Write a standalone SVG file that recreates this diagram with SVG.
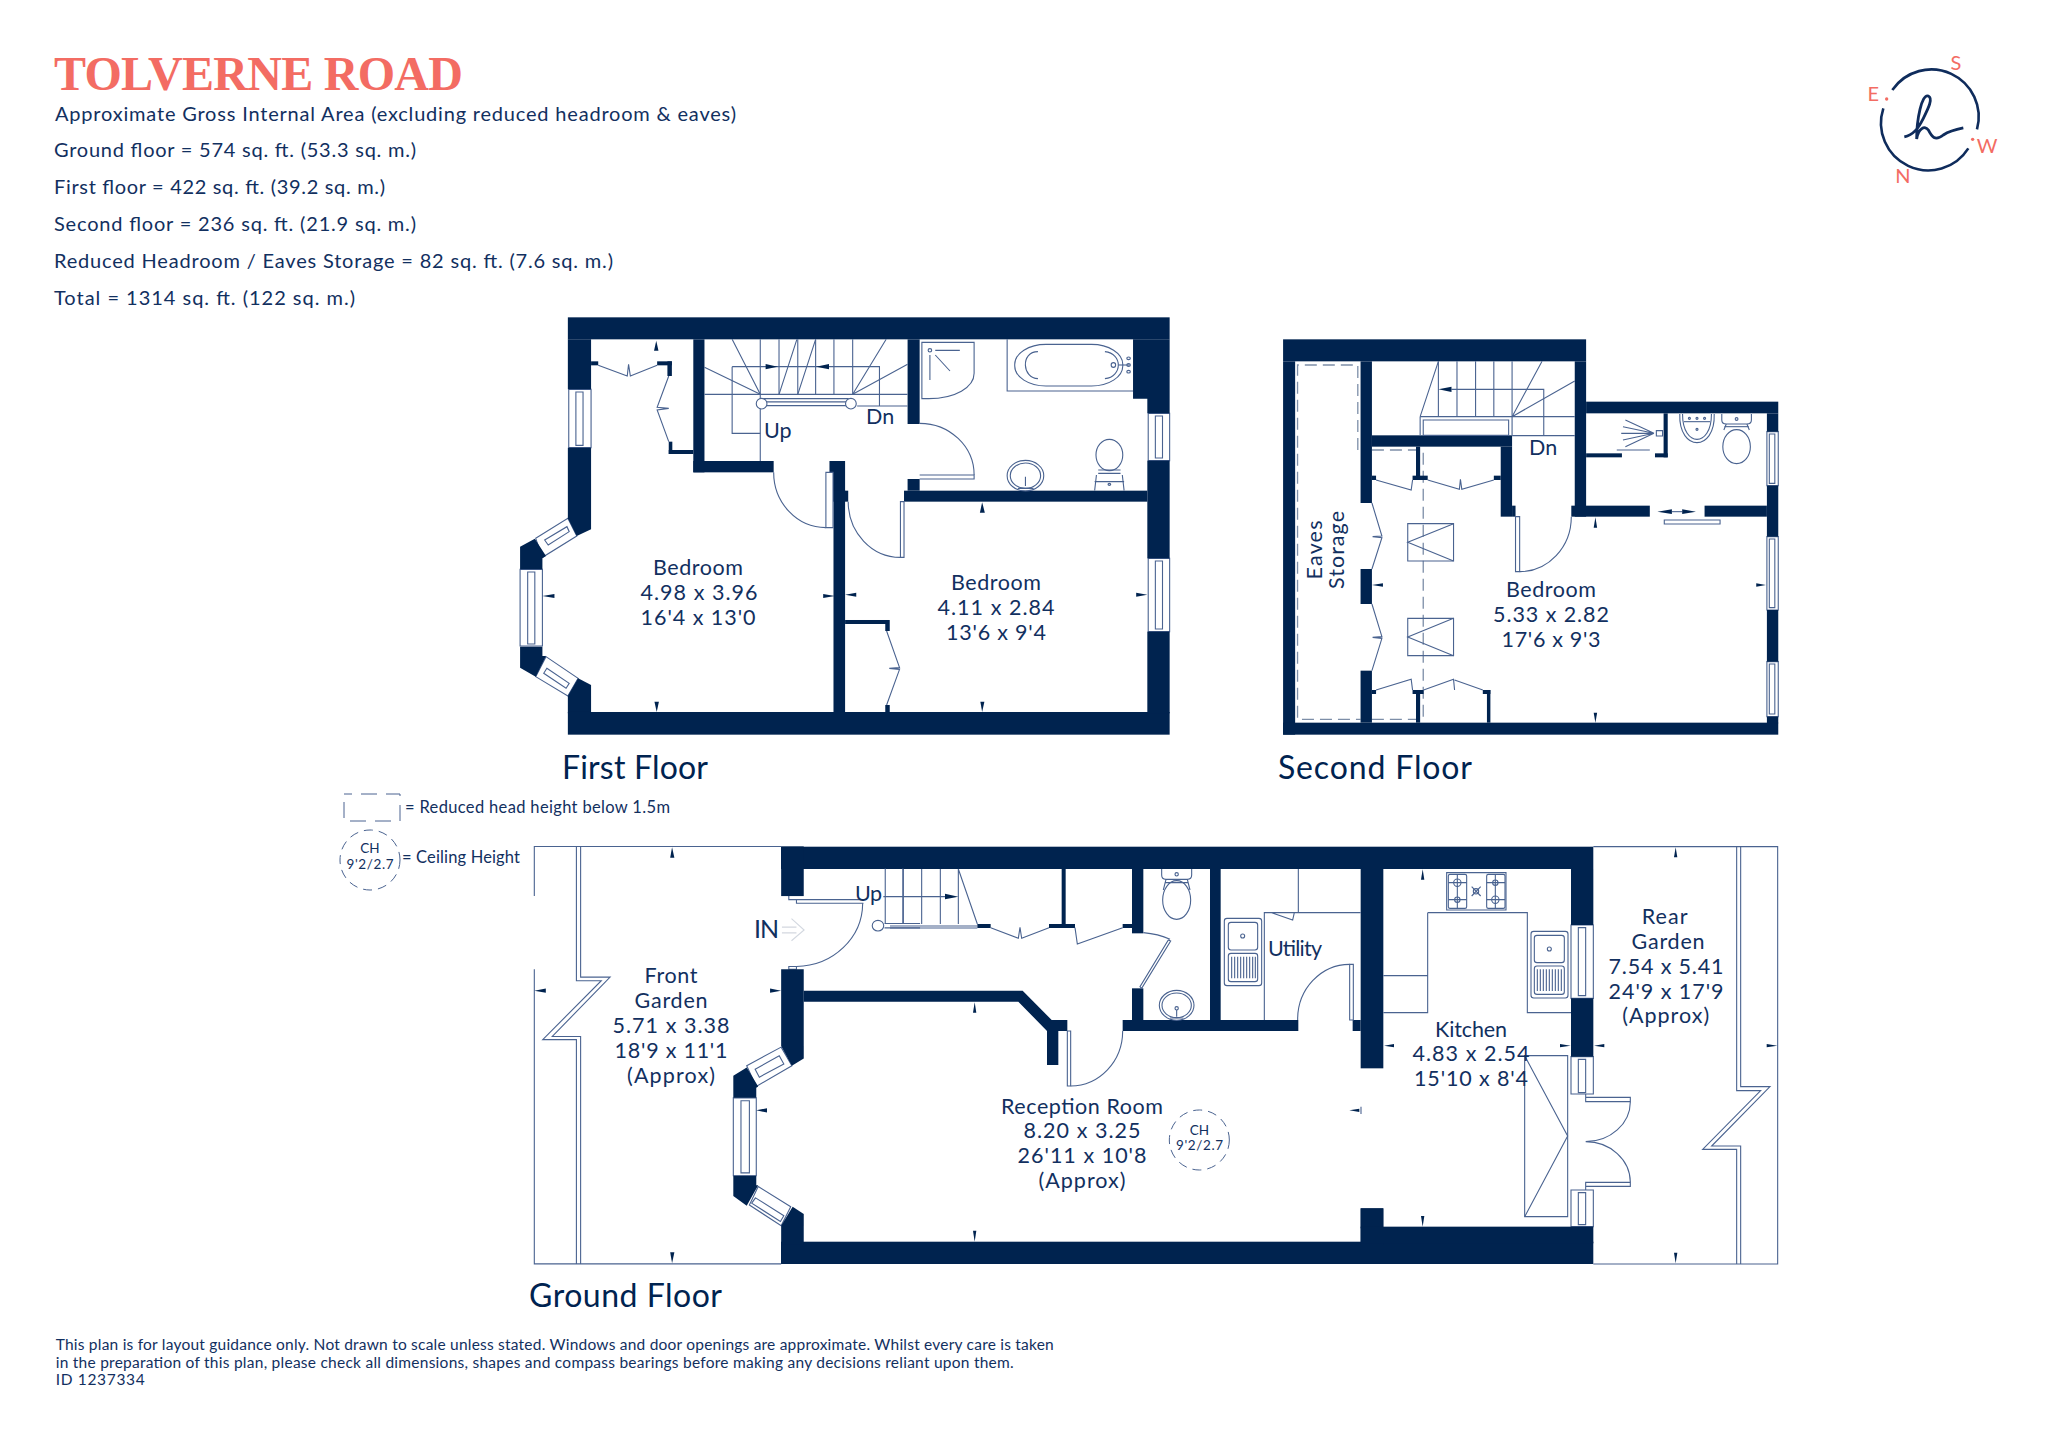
<svg xmlns="http://www.w3.org/2000/svg" width="2048" height="1443" viewBox="0 0 2048 1443">
<style>
text{font-family:"Lato","Noto Sans",sans-serif;fill:#12305f}
.c{text-anchor:middle}
.r{font-size:21.5px}
.f{font-size:32px;fill:#002350}
.h{font-size:20px}
.d{font-size:15.5px}
.lg{font-size:16.5px}
.w{fill:#00234f;stroke:none}
.l,.l *{fill:none;stroke:#4a6390;stroke-width:1.1;vector-effect:non-scaling-stroke}
.win,.win *{fill:#fff;stroke:#4a6390;stroke-width:1.1;vector-effect:non-scaling-stroke}
.t{fill:#00234f;stroke:none}
.dash{fill:none;stroke:#7d8ea8;stroke-width:1.3;stroke-dasharray:12 6}
.cd{fill:none;stroke:#4a6390;stroke-width:1;stroke-dasharray:9 6}
.in{fill:none;stroke:#d3d8e0;stroke-width:1.1;vector-effect:non-scaling-stroke}
</style>
<rect width="2048" height="1443" fill="#fff"/>

<g id="heading">
<text x="54" y="89.5" font-size="48" font-weight="700" textLength="409" style="font-family:'Liberation Serif',serif;fill:#f36c63">TOLVERNE ROAD</text>
<text class="h" x="55" y="120.7" textLength="681">Approximate Gross Internal Area (excluding reduced headroom &amp; eaves)</text>
<text class="h" x="54" y="157" textLength="362">Ground floor = 574 sq. ft. (53.3 sq. m.)</text>
<text class="h" x="54" y="194" textLength="331">First floor = 422 sq. ft. (39.2 sq. m.)</text>
<text class="h" x="54" y="231" textLength="362">Second floor = 236 sq. ft. (21.9 sq. m.)</text>
<text class="h" x="54" y="268" textLength="559">Reduced Headroom / Eaves Storage = 82 sq. ft. (7.6 sq. m.)</text>
<text class="h" x="54" y="304.7" textLength="301">Total = 1314 sq. ft. (122 sq. m.)</text>
</g>

<g id="compass" transform="translate(1850 40) scale(.3333)">
<g class="l"><path style="stroke:#0f2c5c;stroke-width:2.6" d="M127 150A142 142 0 0 1 381 268M355 325A142 142 0 0 1 100 205"/>
<path style="stroke:#0f2c5c;stroke-width:2.8" d="M163 291C190 285 205 265 220 235C235 205 250 175 235 168C215 160 200 240 200 297C205 265 225 255 235 270C245 290 255 305 280 285C300 272 320 268 340 264"/></g>
<circle cx="110" cy="177" r="5" fill="#f36c63"/><circle cx="368" cy="298" r="5" fill="#f36c63"/>
</g>
<g id="compass-letters" font-size="20">
<text class="c" x="1956" y="70" style="fill:#f36c63">S</text>
<text class="c" x="1873.3" y="100.7" style="fill:#f36c63">E</text>
<text class="c" x="1903" y="183" style="fill:#f36c63">N</text>
<text class="c" x="1987" y="152.7" style="fill:#f36c63">W</text>
</g>

<g id="first-floor" transform="translate(500 300) scale(.44643 .33333)">
<g class="win">
<rect x="154" y="268" width="50" height="175"/><rect x="170" y="276" width="16" height="160"/>
<polygon points="80,715 152,655 172,708 95,772"/><polygon points="100,720 150,680 155,695 108,735"/>
<rect x="45" y="808" width="50" height="230"/><rect x="62" y="816" width="16" height="216"/>
<polygon points="103,1070 175,1135 152,1188 80,1130"/><polygon points="105,1105 155,1150 148,1165 98,1120"/>
<rect x="1452" y="340" width="48" height="142"/><rect x="1468" y="348" width="16" height="126"/>
<rect x="1452" y="775" width="48" height="220"/><rect x="1468" y="783" width="16" height="204"/>
</g>
<g class="w">
<rect x="152" y="52" width="1348" height="66"/>
<polygon points="152,118 204,118 204,268 152,268"/>
<polygon points="152,443 204,443 204,688 172,708 152,655"/>
<polygon points="45,740 78,716 103,768 95,775 95,808 45,808"/>
<polygon points="45,1040 95,1040 95,1068 103,1068 80,1130 45,1103"/>
<polygon points="175,1135 204,1155 204,1240 152,1240 152,1188"/>
<rect x="152" y="1236" width="1348" height="68"/>
<polygon points="1418,118 1500,118 1500,340 1450,340 1450,296 1418,296"/>
<rect x="1450" y="482" width="50" height="293"/><rect x="1450" y="995" width="50" height="245"/>
<rect x="433" y="118" width="25" height="399"/><rect x="433" y="483" width="180" height="34"/>
<rect x="378" y="450" width="55" height="12"/><rect x="378" y="425" width="8" height="37"/>
<rect x="204" y="184" width="16" height="12"/><rect x="352" y="184" width="33" height="12"/><rect x="375" y="184" width="10" height="44"/>
<rect x="913" y="118" width="27" height="254"/>
<rect x="905" y="572" width="545" height="33"/><rect x="913" y="537" width="27" height="35"/>
<rect x="747" y="570" width="26" height="666"/><rect x="738" y="483" width="35" height="120"/><rect x="738" y="572" width="42" height="33"/>
<rect x="773" y="960" width="100" height="12"/><rect x="863" y="972" width="10" height="21"/><rect x="863" y="1215" width="10" height="21"/>
</g>
<g class="l">
<rect style="fill:#fff" x="730" y="517" width="16" height="166"/>
<path d="M613 517A117 166 0 0 0 730 683"/>
<path d="M940 525H1062V537H940"/><path d="M940 370A122 155 0 0 1 1062 525"/>
<rect x="897" y="605" width="8" height="167"/><path d="M780 605A117 167 0 0 0 897 772"/>
<path d="M220 196L285 228L288 193L292 228L352 196"/>
<path d="M378 228L352 322L378 325L352 330L378 425"/>
<path d="M866 993L895 1103L872 1105L895 1108L866 1215"/>
<path d="M583 118V483M625 118V283M667 118V283M707 118V283M748 118V283M790 118V283"/>
<path d="M520 118L583 283M458 202L583 283M665 118L625 283M707 118L667 283M865 118L790 283M913 193L790 283"/>
<path d="M458 283H913M520 200H850V318M520 200V400H583M800 318H913"/>
<rect style="fill:#fff" x="590" y="296" width="190" height="10"/><rect style="fill:#fff" x="590" y="306" width="190" height="11"/>
<ellipse style="fill:#fff" cx="586" cy="311" rx="12" ry="16"/><ellipse style="fill:#fff" cx="786" cy="311" rx="12" ry="16"/>
<path d="M945 127H1062V220C1062 262 1020 296 960 296H945Z"/>
<ellipse cx="963" cy="151" rx="4" ry="5"/>
<path d="M975 151H1030M963 165V240M975 165L1008 213"/>
<path d="M1136 118V273H1418"/>
<rect x="1153" y="133" width="242" height="125" rx="70" ry="60"/>
<path d="M1205 155C1165 155 1170 236 1205 236M1355 155C1395 160 1395 230 1355 236"/>
<ellipse cx="1374" cy="195" rx="5" ry="7"/><ellipse cx="1408" cy="175" rx="4" ry="4"/><ellipse cx="1408" cy="195" rx="4" ry="4"/><ellipse cx="1408" cy="215" rx="4" ry="4"/>
<path d="M1385 195H1410"/>
<ellipse cx="1177" cy="527" rx="41" ry="46"/><ellipse cx="1177" cy="527" rx="34" ry="38"/>
<path d="M1177 530V558M1160 565H1195"/>
<ellipse cx="1365" cy="465" rx="30" ry="47"/>
<path d="M1340 510H1390M1340 520H1390M1336 525L1332 572M1394 525L1398 572M1332 545H1398"/>
<circle cx="1365" cy="553" r="3"/>
</g>
<polygon class="t" points="595,192 622,200 595,208"/><polygon class="t" points="737,192 708,200 737,208"/>
<g class="t">
<polygon points="350,122 345,152 355,152"/><polygon points="351,1236 346,1205 356,1205"/>
<polygon points="95,888 122,882 122,894"/><polygon points="750,888 724,882 724,894"/>
<polygon points="773,884 798,878 798,890"/><polygon points="1450,884 1425,878 1425,890"/>
<polygon points="1080,607 1075,638 1086,638"/><polygon points="1080,1236 1076,1205 1085,1205"/>
</g>
</g>
<g id="first-floor-labels">
<text class="r c" x="698" y="575" textLength="90">Bedroom</text>
<text class="r c" x="699" y="600" textLength="117">4.98 x 3.96</text>
<text class="r c" x="698" y="625" textLength="115">16'4 x 13'0</text>
<text class="r c" x="996" y="590" textLength="90">Bedroom</text>
<text class="r c" x="996" y="615" textLength="117">4.11 x 2.84</text>
<text class="r c" x="996" y="640" textLength="100">13'6 x 9'4</text>
<text class="r" x="764" y="438">Up</text>
<text class="r" x="866" y="424">Dn</text>
<text class="f" x="562" y="779" textLength="146">First Floor</text>
</g>

<g id="second-floor" transform="translate(1270 320) scale(.34435 .33333)">
<g class="win">
<rect x="1443" y="335" width="33" height="162"/><rect x="1450" y="342" width="16" height="148"/>
<rect x="1443" y="650" width="33" height="220"/><rect x="1450" y="657" width="16" height="206"/>
<rect x="1443" y="1025" width="33" height="165"/><rect x="1450" y="1032" width="16" height="150"/>
</g>
<path class="dash" vector-effect="non-scaling-stroke" d="M255 390V135H80V1198H263M296 390H445V1198H296"/>
<g class="w">
<rect x="38" y="58" width="880" height="66"/>
<rect x="38" y="124" width="35" height="1120"/>
<rect x="38" y="1208" width="1438" height="36"/>
<rect x="885" y="124" width="33" height="466"/>
<rect x="918" y="245" width="558" height="35"/>
<rect x="1443" y="280" width="33" height="55"/><rect x="1443" y="497" width="33" height="153"/><rect x="1443" y="870" width="33" height="155"/><rect x="1443" y="1190" width="33" height="20"/>
<rect x="263" y="124" width="33" height="425"/><rect x="263" y="747" width="33" height="105"/><rect x="263" y="1052" width="33" height="156"/>
<rect x="296" y="346" width="407" height="34"/><rect x="670" y="380" width="33" height="210"/><rect x="703" y="557" width="10" height="33"/>
<rect x="424" y="380" width="12" height="100"/><rect x="414" y="467" width="44" height="13"/><rect x="296" y="467" width="12" height="13"/><rect x="650" y="467" width="20" height="13"/>
<rect x="424" y="1110" width="12" height="98"/><rect x="414" y="1110" width="32" height="12"/><rect x="296" y="1110" width="12" height="12"/><rect x="618" y="1110" width="22" height="12"/><rect x="630" y="1110" width="10" height="98"/>
<rect x="875" y="557" width="228" height="33"/><rect x="1262" y="557" width="181" height="33"/>
<rect x="918" y="400" width="104" height="12"/><rect x="1118" y="400" width="37" height="12"/><rect x="1143" y="280" width="12" height="132"/>
</g>
<g class="l">
<rect x="713" y="590" width="12" height="165"/><path d="M875 590A150 165 0 0 1 725 755"/>
<rect x="1145" y="600" width="162" height="12"/>
<path d="M1167 575H1197"/>
<rect x="400" y="611" width="133" height="112"/><path d="M533 611L400 667L533 723"/>
<rect x="400" y="895" width="133" height="112"/><path d="M533 895L400 951L533 1007"/>
<path d="M308 480L410 510L414 480M458 480L550 508L553 478L557 508L650 480"/>
<path d="M296 549L325 648L298 650L325 653L296 747"/>
<path d="M296 852L325 950L298 952L325 955L296 1052"/>
<path d="M308 1110L410 1078L414 1110M446 1110L533 1078L536 1110M536 1080L618 1110"/>
<path d="M489 124V290M543 124V290M597 124V290M650 124V290M703 124V346"/>
<path d="M489 124L436 290M790 124L703 290M885 183L703 290M436 290H885M703 347H885M436 290V346"/>
<rect x="445" y="300" width="248" height="46"/>
<path d="M527 208H795V346"/>
<path d="M1115 340L1032 300M1115 340L1025 320M1115 340L1020 340M1115 340L1025 360M1115 340L1032 380M1007 390H1103"/>
<rect x="1122" y="332" width="18" height="16"/>
<path d="M1190 282C1188 340 1215 368 1240 368C1265 368 1292 340 1290 282"/>
<path d="M1198 282C1198 335 1220 358 1240 358C1260 358 1282 335 1282 282"/>
<path d="M1202 305H1278"/>
<circle cx="1218" cy="295" r="3"/><circle cx="1240" cy="295" r="3"/><circle cx="1262" cy="295" r="3"/><circle cx="1240" cy="328" r="3"/>
<path d="M1312 282V300Q1312 312 1325 312H1385Q1398 312 1398 300V282"/>
<path d="M1325 312L1318 330M1385 312L1392 330"/>
<ellipse cx="1355" cy="380" rx="40" ry="51"/><path d="M1320 320H1390"/>
<circle cx="1355" cy="297" r="4"/>
</g>
<g class="t">
<polygon points="489,208 527,200 527,216"/>
<polygon points="1125,575 1167,568 1167,582"/><polygon points="1237,575 1197,568 1197,582"/>
<polygon points="945,592 940,623 950,623"/><polygon points="945,1208 940,1178 950,1178"/>
<polygon points="296,795 328,790 328,800"/><polygon points="1440,795 1412,790 1412,800"/>
</g>
</g>
<g id="second-floor-labels">
<text class="r c" x="1551" y="596.7" textLength="90">Bedroom</text>
<text class="r c" x="1551" y="621.7" textLength="116">5.33 x 2.82</text>
<text class="r c" x="1551" y="646.7" textLength="99">17'6 x 9'3</text>
<text class="r" x="1529" y="455">Dn</text>
<text class="r c" transform="translate(1321.6 550) rotate(-90)" textLength="59">Eaves</text>
<text class="r c" transform="translate(1344 550) rotate(-90)" textLength="78">Storage</text>
<text class="f" x="1278" y="779" textLength="194">Second Floor</text>
</g>

<g id="legend">
<rect class="cd" style="stroke-dasharray:16 9;stroke-dashoffset:8" x="344" y="794" width="56" height="27"/>
<circle class="cd" cx="370" cy="860" r="30"/>
<text class="c" x="370" y="852.5" font-size="13.5">CH</text>
<text class="c" x="370" y="869" font-size="13.5" textLength="47">9'2/2.7</text>
<text class="lg" x="405" y="813" textLength="265">= Reduced head height below 1.5m</text>
<text class="lg" x="402" y="863" textLength="118">= Ceiling Height</text>
</g>

<g id="ground-floor-walls">
<rect class="w" x="781" y="846.7" width="812.3" height="22.3"/>
<rect class="w" x="781" y="1241.7" width="812.3" height="22.3"/>
</g>

<g id="ground-floor-front" transform="translate(320 780) scale(.38270 .35714)">
<g class="l">
<path d="M560 325V186H1205M560 530V1355H1205"/>
<path d="M670 186V562H735L582 727H670V1355M681 186V552H758L607 718H681V1355"/>
<path d="M1225 325V335H1245V345H1420M1245 335H1420"/>
<path d="M1418 345A175 178 0 0 1 1245 522"/>
<rect x="1225" y="522" width="20" height="8"/>
</g>
<path class="in" d="M1207 412H1245M1207 428H1245M1232 388L1265 420L1232 450"/>
<g class="win">
<polygon points="1115,800 1205,748 1233,800 1140,858"/><polygon points="1137,810 1200,772 1212,795 1148,832"/>
<rect x="1080" y="890" width="60" height="218"/><rect x="1100" y="898" width="22" height="202"/>
<polygon points="1145,1138 1230,1195 1205,1248 1122,1190"/><polygon points="1138,1170 1212,1220 1203,1236 1128,1185"/>
</g>
<g class="w">
<rect x="1205" y="186" width="59" height="139"/>
<polygon points="1205,530 1264,530 1264,780 1233,800 1205,745"/>
<polygon points="1080,828 1115,805 1145,858 1140,862 1140,890 1080,890"/>
<polygon points="1080,1108 1140,1108 1140,1135 1145,1135 1115,1192 1080,1165"/>
<polygon points="1235,1195 1264,1215 1264,1300 1205,1300 1205,1248"/>
</g>
<g class="t">
<polygon points="920,188 915,218 926,218"/><polygon points="920,1353 915,1322 926,1322"/>
<polygon points="560,590 590,584 590,596"/><polygon points="1205,590 1176,584 1176,596"/>
<polygon points="1140,925 1168,919 1168,931"/>
</g>
<g class="l">
<circle style="fill:#fff" cx="1458" cy="408" r="15"/>
<path d="M1475 402H1568M1475 414H1568M1477 248V402M1523 248V402"/>
</g>
</g>

<g id="ground-floor-middle" transform="translate(900 840) scale(.33333)">
<g class="w">
<polygon points="-289,452 368,452 455,540 502,540 502,573 475,573 475,675 441,675 441,573 355,485 -289,485"/>
<rect x="485" y="87" width="12" height="165"/><rect x="447" y="252" width="78" height="12"/><rect x="232" y="252" width="40" height="12"/>
<rect x="668" y="252" width="28" height="12"/><rect x="696" y="87" width="34" height="193"/>
<rect x="696" y="445" width="34" height="95"/><rect x="668" y="540" width="527" height="33"/>
<rect x="930" y="87" width="32" height="453"/>
<rect x="1382" y="87" width="68" height="598"/><rect x="1358" y="540" width="24" height="33"/>
<rect x="1382" y="1105" width="68" height="110"/>
</g>
<g class="l">
<path d="M10 87V252M65 87V252M121 87V252M175 87V252M-50 170H135M175 87L232 252M-30 258H232M-30 264H232"/>
<rect style="fill:#fff" x="502" y="573" width="10" height="165"/>
<path d="M668 573A156 165 0 0 1 512 738"/>
<polygon points="805,300 812,303 725,445 720,440"/>
<path d="M730 278Q775 282 810 298"/>
<path d="M272 263L355 295L360 262L365 295L447 263M525 263L532 312L668 263"/>
<rect x="1349" y="373" width="11" height="167"/>
<path d="M1193 540A156 165 0 0 1 1349 373"/>
<path d="M1382 218H1093V540M1195 87V218M1115 218L1178 240L1183 218"/>
<rect x="973" y="235" width="112" height="202" rx="8"/><rect x="985" y="247" width="88" height="83" rx="8"/><circle cx="1028" cy="288" r="6"/>
<rect x="985" y="340" width="88" height="85" rx="8"/>
<path d="M995 350V415M1004 350V415M1013 350V415M1022 350V415M1031 350V415M1040 350V415M1049 350V415M1058 350V415M1066 350V415"/>
<path d="M785 87V105Q785 118 798 118H862Q875 118 875 105V87"/>
<ellipse cx="830" cy="180" rx="42" ry="58"/><path d="M795 128H865M798 118L790 150M862 118L870 150"/><circle cx="830" cy="103" r="5"/>
<ellipse cx="830" cy="496" rx="52" ry="45"/><ellipse cx="830" cy="496" rx="44" ry="37"/><circle cx="830" cy="505" r="5"/><path d="M830 510V530M810 534H850"/>
<path d="M1383 800V822"/>
</g>
<g class="t">
<polygon points="135,161 135,178 175,170"/>
<polygon points="224,487 219,518 229,518"/><polygon points="224,1205 219,1172 229,1172"/>
<polygon points="1348,811 1378,806 1378,816"/>
</g>
<circle class="cd" style="vector-effect:non-scaling-stroke" cx="898" cy="900" r="90"/>
</g>

<g id="ground-floor-rear" transform="translate(1340 840) scale(.33333)">
<g class="win">
<rect x="693" y="255" width="67" height="220"/><rect x="715" y="263" width="22" height="204"/>
<rect x="693" y="650" width="67" height="112"/><rect x="715" y="658" width="22" height="100"/>
<rect x="693" y="1050" width="67" height="110"/><rect x="715" y="1058" width="22" height="96"/>
</g>
<g class="w">
<rect x="62" y="1105" width="68" height="60"/><rect x="62" y="1160" width="698" height="50"/>
<rect x="693" y="87" width="67" height="168"/><rect x="693" y="475" width="67" height="175"/>
</g>
<g class="l">
<path d="M760 20H1313V1272H760"/>
<path d="M1202 20V740H1290L1115 918H1202V1272M1190 20V752H1262L1088 928H1190V1272"/>
<rect x="320" y="98" width="178" height="112"/><rect x="325" y="103" width="55" height="102" rx="5"/><rect x="440" y="103" width="55" height="102" rx="5"/>
<circle cx="352" cy="128" r="11"/><circle cx="352" cy="179" r="8"/><circle cx="466" cy="128" r="8"/><circle cx="466" cy="179" r="11"/>
<path d="M325 128H380M325 179H380M352 103V205M440 128H495M440 179H495M466 103V205"/>
<path d="M395 140L422 168M422 140L395 168"/><circle cx="408" cy="154" r="8"/>
<path d="M263 218H562V518H693M263 218V518H130M130 407H263"/>
<rect x="573" y="274" width="111" height="200" rx="8"/><rect x="583" y="286" width="90" height="82" rx="8"/><circle cx="628" cy="327" r="6"/>
<rect x="583" y="378" width="90" height="85" rx="8"/>
<path d="M592 388V453M601 388V453M610 388V453M619 388V453M628 388V453M637 388V453M646 388V453M655 388V453M664 388V453"/>
<rect x="554" y="647" width="129" height="483"/><path d="M554 647L683 888L554 1130"/>
<path d="M737 762V785H871V772H737M737 1050V1027H871V1039H737"/>
<path d="M871 785A134 120 0 0 1 737 905A134 122 0 0 1 871 1027"/>
</g>
<g class="t">
<polygon points="248,88 243,119 253,119"/><polygon points="248,1160 243,1128 253,1128"/>
<polygon points="1007,22 1002,52 1012,52"/><polygon points="1007,1270 1002,1238 1012,1238"/>
<polygon points="132,617 162,612 162,622"/><polygon points="692,617 660,612 660,622"/>
<polygon points="762,617 793,612 793,622"/><polygon points="1312,617 1280,612 1280,622"/>
</g>
</g>

<g id="ground-floor-labels">
<text x="754" y="938" font-size="25" textLength="25">IN</text>
<text class="r" x="855" y="900.7" textLength="27">Up</text>
<text class="r c" x="671" y="983" textLength="53">Front</text>
<text class="r c" x="671" y="1008" textLength="73">Garden</text>
<text class="r c" x="671" y="1033" textLength="117">5.71 x 3.38</text>
<text class="r c" x="671" y="1058" textLength="113">18'9 x 11'1</text>
<text class="r c" x="671" y="1083" textLength="88">(Approx)</text>
<text class="r c" x="1082" y="1113.7" textLength="162">Reception Room</text>
<text class="r c" x="1082" y="1138" textLength="117">8.20 x 3.25</text>
<text class="r c" x="1082" y="1163" textLength="129">26'11 x 10'8</text>
<text class="r c" x="1082" y="1187.7" textLength="87">(Approx)</text>
<text class="c" x="1199.5" y="1135" font-size="13.5">CH</text>
<text class="c" x="1199.5" y="1150" font-size="13.5" textLength="47">9'2/2.7</text>
<text class="r" x="1268" y="955.7" textLength="54">Utility</text>
<text class="r c" x="1471" y="1036.7" textLength="72">Kitchen</text>
<text class="r c" x="1471" y="1061" textLength="117">4.83 x 2.54</text>
<text class="r c" x="1471" y="1086" textLength="114">15'10 x 8'4</text>
<text class="r c" x="1664.7" y="923.7" textLength="46">Rear</text>
<text class="r c" x="1668" y="949" textLength="73">Garden</text>
<text class="r c" x="1666" y="974" textLength="115">7.54 x 5.41</text>
<text class="r c" x="1666" y="998.7" textLength="115">24'9 x 17'9</text>
<text class="r c" x="1665.7" y="1023" textLength="87">(Approx)</text>
<text class="f" x="529" y="1307" textLength="193">Ground Floor</text>
</g>

<g id="disclaimer">
<text class="d" x="55.7" y="1350" textLength="998">This plan is for layout guidance only. Not drawn to scale unless stated. Windows and door openings are approximate. Whilst every care is taken</text>
<text class="d" x="55.7" y="1367.7" textLength="958">in the preparation of this plan, please check all dimensions, shapes and compass bearings before making any decisions reliant upon them.</text>
<text class="d" x="55.7" y="1385" textLength="89">ID 1237334</text>
</g>
</svg>
